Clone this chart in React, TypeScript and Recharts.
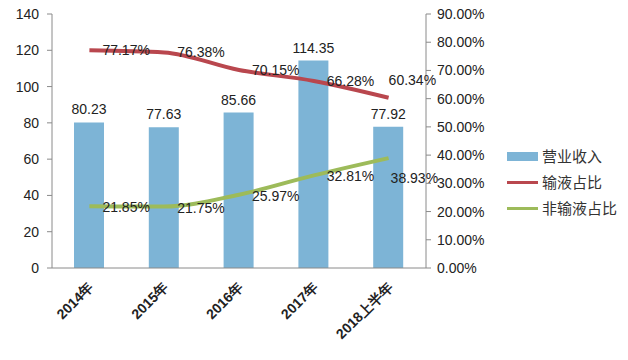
import React from "react";
import { Bar, ComposedChart, Line, XAxis, YAxis, LabelList } from "recharts";

const categories = ["2014年", "2015年", "2016年", "2017年", "2018上半年"];
const revenue = [80.23, 77.63, 85.66, 114.35, 77.92];
const infusionShare = [0.7717, 0.7638, 0.7015, 0.6628, 0.6034];
const nonInfusionShare = [0.2185, 0.2175, 0.2597, 0.3281, 0.3893];

const leftTicks = [0, 20, 40, 60, 80, 100, 120, 140];
const rightTicks = [0, 0.1, 0.2, 0.3, 0.4, 0.5, 0.6, 0.7, 0.8, 0.9];

const seriesNames = ["营业收入", "输液占比", "非输液占比"];
const BAR = "#7db4d6";
const RED = "#b9474e";
const GREEN = "#9dbb5a";
const AXIS = "#8a8a8a";
const FONT = "'Liberation Sans', Arial, sans-serif";

const data = categories.map((name, i) => ({
  name,
  revenue: revenue[i],
  infusion: infusionShare[i],
  nonInfusion: nonInfusionShare[i],
}));

const pct = (v: number) => (v * 100).toFixed(2) + "%";

// line labels sit to the right of the point, except the last one
const redLabel = (props: any) => {
  const { x, y, value, index } = props;
  const last = index === categories.length - 1;
  return (
    <text x={last ? x : x + 13} y={last ? y - 18 : y} dominantBaseline="central" fontSize={14} fontFamily={FONT} fill="#222">
      {pct(value)}
    </text>
  );
};

const greenLabel = (props: any) => {
  const { x, y, value, index } = props;
  const last = index === categories.length - 1;
  return (
    <text x={last ? x + 2 : x + 13} y={last ? y + 20 : y + 1} dominantBaseline="central" fontSize={14} fontFamily={FONT} fill="#222">
      {pct(value)}
    </text>
  );
};

const XTick = (props: any) => {
  const { x, y, payload } = props;
  return (
    <g transform={`translate(${x + 5},${y + 12})`}>
      <text textAnchor="end" transform="rotate(-45)" fontSize={14} fontWeight="bold" fontFamily={FONT} fill="#222">
        {payload.value}
      </text>
    </g>
  );
};

export default function App() {
  const tickStyle = { fontSize: 14, fill: "#222", fontFamily: FONT };
  return (
    <div style={{ position: "absolute", left: 0, top: 0, width: 628, height: 360, background: "#fff" }}>
      <ComposedChart width={628} height={360} data={data} margin={{ top: 14, right: 122, left: 0, bottom: 0 }} barCategoryGap="30%">
        <XAxis dataKey="name" height={92} stroke={AXIS} tickLine={false} tick={<XTick />} interval={0} />
        <YAxis
          yAxisId="left"
          width={52}
          domain={[0, 140]}
          ticks={leftTicks}
          stroke={AXIS}
          tickSize={5}
          tickMargin={8}
          tick={tickStyle}
          interval={0}
        />
        <YAxis
          yAxisId="right"
          orientation="right"
          width={80}
          domain={[0, 0.9]}
          ticks={rightTicks}
          stroke={AXIS}
          tickSize={5}
          tickMargin={6}
          tick={tickStyle}
          tickFormatter={pct}
          interval={0}
        />
        <Bar yAxisId="left" dataKey="revenue" name={seriesNames[0]} fill={BAR} barSize={30} isAnimationActive={false}>
          <LabelList dataKey="revenue" position="top" offset={8} fontSize={14} fontFamily={FONT} fill="#222" />
        </Bar>
        <Line
          yAxisId="right"
          type="monotone"
          dataKey="infusion"
          name={seriesNames[1]}
          stroke={RED}
          strokeWidth={4}
          dot={false}
          isAnimationActive={false}
        >
          <LabelList dataKey="infusion" content={redLabel} />
        </Line>
        <Line
          yAxisId="right"
          type="monotone"
          dataKey="nonInfusion"
          name={seriesNames[2]}
          stroke={GREEN}
          strokeWidth={4}
          dot={false}
          isAnimationActive={false}
        >
          <LabelList dataKey="nonInfusion" content={greenLabel} />
        </Line>
      </ComposedChart>
      <div style={{ position: "absolute", left: 507, top: 143, fontFamily: "'Noto Sans CJK SC', sans-serif", fontSize: 15, color: "#333" }}>
        {seriesNames.map((n, i) => (
          <div key={n} style={{ display: "flex", alignItems: "center", height: 26 }}>
            {i === 0 ? (
              <div style={{ width: 31, height: 9, background: BAR }} />
            ) : (
              <div style={{ width: 31, height: 3, background: i === 1 ? RED : GREEN }} />
            )}
            <span style={{ marginLeft: 4, lineHeight: "26px" }}>{n}</span>
          </div>
        ))}
      </div>
    </div>
  );
}
